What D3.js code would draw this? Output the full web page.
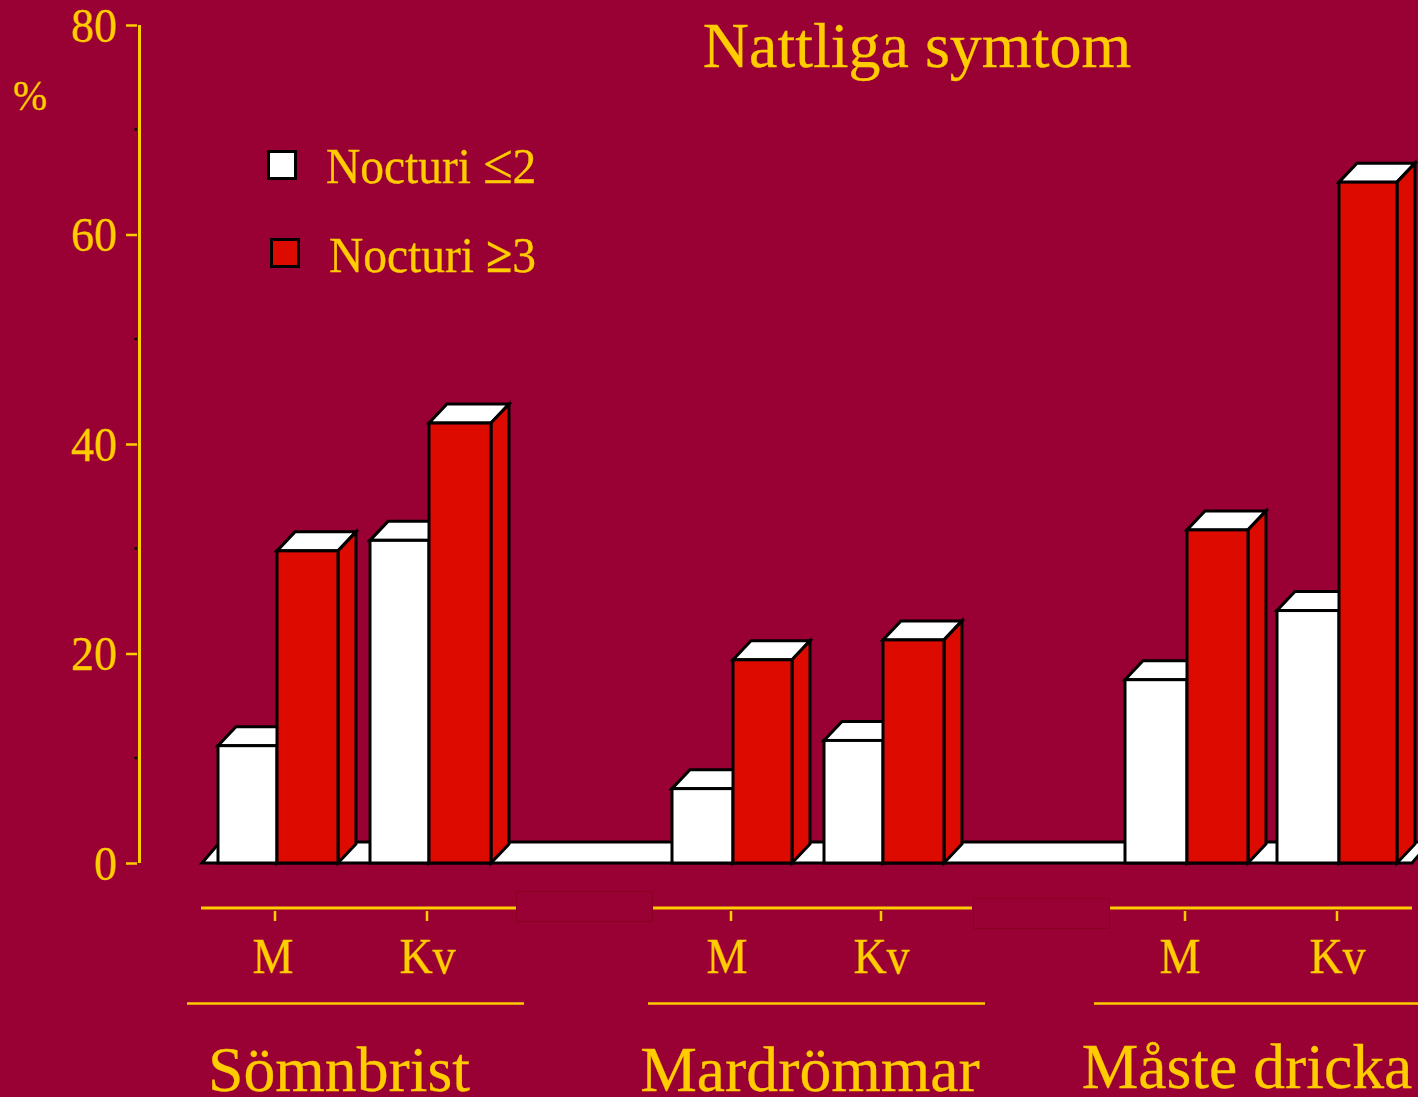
<!DOCTYPE html>
<html><head><meta charset="utf-8">
<script src="https://cdn.jsdelivr.net/npm/d3@7/dist/d3.min.js"></script>
<style>html,body{margin:0;padding:0;background:#990033;overflow:hidden}svg{display:block}text{font-family:"Liberation Serif",serif;fill:#FFCC00;stroke:#FFCC00;stroke-width:.3px}</style>
</head><body><svg id="c" width="1418" height="1097"></svg>
<script>
const groups = ["Sömnbrist", "Mardrömmar", "Måste dricka"];
const sexes = ["M", "Kv"];
const seriesNames = ["Nocturi ≤2", "Nocturi ≥3"];
const nocturiLow = [[11.2, 30.8], [7.1, 11.7], [17.5, 24.1]];
const nocturiHigh = [[29.8, 42.0], [19.4, 21.3], [31.8, 65.0]];
const yTicks = [0, 20, 40, 60, 80];
const yMinor = [10, 30, 50, 70];

const BG = "#990033", YEL = "#FFCC00", RED = "#DD0A00";
const svg = d3.select("#c");
svg.append("rect").attr("width", 1418).attr("height", 1097).attr("fill", BG);

const y = d3.scaleLinear().domain([0, 80]).range([863, 25]);
const xGroup = d3.scaleBand().domain(groups).range([218, 218 + 453.5 * 3]);
const xSex = d3.scaleBand().domain(sexes).range([0, 304]);
// layout: the bars in the reference are not perfectly regular
const redStart = [[59, 59], [61, 59], [62, 62]];
const redEnd = [[120, 121], [120, 120], [123, 120]];
const dx = 18, dy = 19;

function label(parent, px, py, size, str, anchor, stretch) {
  return parent.append("text").attr("transform", `translate(${px},${py}) scale(1,${stretch || 1})`)
    .attr("text-anchor", anchor || "middle").attr("font-size", size).text(str);
}

// floor
const floorL = 202, floorR = 1412;
svg.append("path")
  .attr("d", d3.line()([[floorL, y(0)], [floorL + dx, y(0) - 21], [floorR + dx, y(0) - 21], [floorR, y(0)]]) + "Z")
  .attr("fill", "#fff").attr("stroke", "#000").attr("stroke-width", 3);

// bars
const bars = [];
groups.forEach((g, gi) => sexes.forEach((s, si) => {
  const x0 = Math.round(xGroup(g) + xSex(s));
  bars.push({ x: x0, w: redStart[gi][si], v: nocturiLow[gi][si], fill: "#fff" });
  bars.push({ x: x0 + redStart[gi][si], w: redEnd[gi][si] - redStart[gi][si], v: nocturiHigh[gi][si], fill: RED });
}));
const bar = svg.append("g").attr("stroke", "#000").attr("stroke-width", 3).attr("stroke-linejoin", "miter")
  .selectAll("g").data(bars).join("g");
bar.append("path").attr("fill", "#fff")
  .attr("d", d => { const t = y(d.v); return d3.line()([[d.x, t], [d.x + dx, t - dy], [d.x + d.w + dx, t - dy], [d.x + d.w, t]]) + "Z"; });
bar.append("path").attr("fill", d => d.fill)
  .attr("d", d => { const x = d.x + d.w, t = y(d.v), b = y(0); return d3.line()([[x, t], [x + dx, t - dy], [x + dx, b - dy], [x, b]]) + "Z"; });
bar.append("rect").attr("fill", d => d.fill)
  .attr("x", d => d.x).attr("y", d => y(d.v)).attr("width", d => d.w).attr("height", d => y(0) - y(d.v));

// y axis
const axis = svg.append("g").attr("transform", "translate(137,0)")
  .call(d3.axisLeft(y).tickValues(yTicks).tickSize(11).tickPadding(9).tickSizeOuter(0));
axis.select(".domain").remove();
axis.selectAll(".tick line").attr("stroke", YEL).attr("stroke-width", 2.5);
axis.selectAll(".tick text").attr("font-size", 46).attr("font-family", '"Liberation Serif",serif').attr("fill", YEL)
  .attr("dy", null).attr("y", null).attr("x", null)
  .attr("transform", "translate(-20,16) scale(1,1.05)");
svg.append("line").attr("x1", 139.5).attr("x2", 139.5).attr("y1", y(80)).attr("y2", y(0)).attr("stroke", YEL).attr("stroke-width", 3);
svg.selectAll(".minor").data(yMinor).join("rect").attr("class", "minor")
  .attr("x", 134.5).attr("y", d => y(d) - 1.5).attr("width", 2.5).attr("height", 2.5).attr("fill", "#000");

// sex ticks and labels
groups.forEach((g, gi) => sexes.forEach((s, si) => {
  const x0 = Math.round(xGroup(g) + xSex(s));
  const cx = x0 + redStart[gi][si] - 2;
  svg.append("line").attr("x1", cx).attr("x2", cx).attr("y1", 911).attr("y2", 921).attr("stroke", YEL).attr("stroke-width", 2.5);
  label(svg, s === "M" ? x0 + 55 : cx + 0.5, 973, 46, s, "middle", 1.08);
}));

// separators
[[201, 516], [653, 972], [1110, 1412]].forEach(r => svg.append("line").attr("x1", r[0]).attr("x2", r[1]).attr("y1", 908).attr("y2", 908).attr("stroke", YEL).attr("stroke-width", 3));
[[187, 524], [648, 985], [1094, 1418]].forEach(r => svg.append("line").attr("x1", r[0]).attr("x2", r[1]).attr("y1", 1003.5).attr("y2", 1003.5).attr("stroke", YEL).attr("stroke-width", 2.5));
[[516.5, 891.5], [973.5, 898.5]].forEach(p => svg.append("rect").attr("x", p[0]).attr("y", p[1]).attr("width", 136).attr("height", 30).attr("fill", BG).attr("stroke", "#8B0020").attr("stroke-width", 1));

// group labels
const groupLabelPos = [[339, 1091], [810, 1091], [1247, 1088]];
groups.forEach((g, i) => label(svg, groupLabelPos[i][0], groupLabelPos[i][1], 63.7, g));

// title, unit
label(svg, 917, 67, 64, "Nattliga symtom");
label(svg, 30, 110, 41, "%", "middle", 1.05);

// legend
const legendPos = [[268.5, 151.5, 326, 183], [271.5, 239.5, 329, 272]];
seriesNames.forEach((n, i) => {
  const p = legendPos[i];
  svg.append("rect").attr("x", p[0]).attr("y", p[1]).attr("width", 27).attr("height", 27).attr("fill", i ? RED : "#fff").attr("stroke", "#000").attr("stroke-width", 3);
  const t = label(svg, p[2], p[3], 47.5, null, "start", 1.05);
  const parts = n.split(" ");
  t.append("tspan").text(parts[0] + " ");
  t.append("tspan").text(parts[1][0]).attr("font-size", i ? 48 : 54).attr("font-weight", i ? "bold" : null);
  t.append("tspan").text(parts[1].slice(1));
});
</script></body></html>
